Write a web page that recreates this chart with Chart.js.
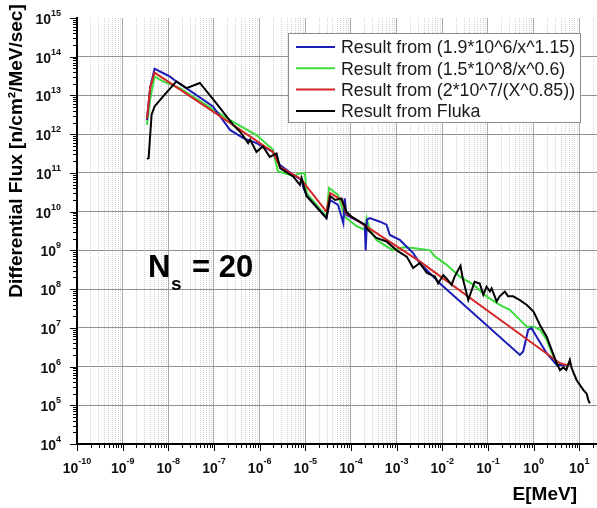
<!DOCTYPE html>
<html>
<head>
<meta charset="utf-8">
<script src="https://cdn.jsdelivr.net/npm/chart.js@4.4.1/dist/chart.umd.min.js"></script>
<style>
  html, body { margin: 0; padding: 0; background: #fff; }
  #wrap { width: 597px; height: 508px; }
</style>
</head>
<body>
<div id="wrap"><canvas id="myChart"></canvas></div>
<script>
// values: E in MeV, flux in n/cm2/MeV/sec
const blueE = [3.4e-9, 4.0e-9, 5.0e-9, 7.6e-9, 1.07e-8, 1.5e-8, 9.5e-8, 2.24e-7, 4.4e-7, 8.5e-7, 1.95e-6, 2.75e-6, 5.4e-6, 8.3e-6, 9.1e-6, 1.07e-5, 2.9e-5, 3.5e-5, 5.2e-5, 6.8e-5, 7.3e-5, 7.9e-5, 2.0e-4, 2.1e-4, 2.24e-4, 2.6e-4, 4.3e-4, 6.0e-4, 7.1e-4, 1.17e-3, 2.3e-3, 3.2e-3, 8.9e-3, 0.5, 0.59, 0.76, 0.9, 1.16, 1.93, 3.19, 5.2];
const blueFlux = [2.3e12, 1.6e13, 4.9e13, 3.8e13, 3.1e13, 2.3e13, 5.2e12, 1.29e12, 7.9e11, 5.9e11, 3.5e11, 1.62e11, 8.9e10, 6.6e10, 4.1e10, 2.6e10, 6.8e9, 2.0e10, 1.5e10, 5.0e9, 2.2e10, 8.3e9, 4.6e9, 1.0e9, 6.2e9, 6.8e9, 5.5e9, 4.6e9, 2.5e9, 1.86e9, 8.5e8, 4.7e8, 1.4e8, 2.0e6, 2.45e6, 8.9e6, 9.8e6, 5.9e6, 2.2e6, 1.1e6, 1.1e6];

const greenE = [3.4e-9, 4.0e-9, 5.0e-9, 7.6e-9, 1.78e-8, 2.24e-7, 8.5e-7, 1.95e-6, 2.5e-6, 5.4e-6, 7.6e-6, 9.8e-6, 1.07e-5, 2.9e-5, 3.3e-5, 5.2e-5, 7.3e-5, 1.32e-4, 2.0e-4, 2.2e-4, 2.6e-4, 3.6e-4, 8.3e-4, 1.41e-3, 2.3e-3, 5.4e-3, 6.9e-3, 1.23e-2, 2.4e-2, 4.8e-2, 9.3e-2, 0.18, 0.3, 0.5, 0.71, 1.0, 1.38, 1.93, 2.7, 3.19, 3.77];
const greenFlux = [1.74e12, 7.9e12, 3.1e13, 2.3e13, 1.55e13, 2.3e12, 9.5e11, 4.0e11, 1.1e11, 8.3e10, 9.8e10, 9.8e10, 3.0e10, 7.4e9, 4.1e10, 2.7e10, 7.4e9, 4.2e9, 3.4e9, 6.8e9, 3.4e9, 1.86e9, 1.0e9, 1.2e9, 1.15e9, 1.0e9, 6.9e8, 4.3e8, 2.1e8, 1.3e8, 6.5e7, 3.9e7, 2.9e7, 1.6e7, 1.07e7, 1.07e7, 8.9e6, 4.9e6, 1.8e6, 1.22e6, 1.1e6];

const redE = [3.4e-9, 4.0e-9, 5.0e-9, 1.0e-7, 1.95e-6, 2.8e-6, 7.9e-6, 2.9e-5, 3.5e-5, 6.2e-5, 7.9e-5, 3.2e-3, 3.77, 5.2, 6.3];
const redFlux = [2.5e12, 1.6e13, 3.9e13, 3.7e12, 3.5e11, 1.41e11, 7.1e10, 1.0e10, 3.0e10, 2.0e10, 9.1e9, 5.2e8, 1.22e6, 1.1e6, 1.15e6];

const flukaE = [3.4e-9, 3.7e-9, 4.3e-9, 5.0e-9, 7.6e-9, 1.5e-8, 2.5e-8, 4.9e-8, 1.12e-7, 2.63e-7, 3.7e-7, 5.6e-7, 6.2e-7, 8.5e-7, 1.18e-6, 1.66e-6, 2.34e-6, 2.8e-6, 5.4e-6, 7.6e-6, 8.3e-6, 9.8e-6, 1.07e-5, 2.9e-5, 3.5e-5, 4.5e-5, 6.2e-5, 7.9e-5, 1.02e-4, 2.0e-4, 2.34e-4, 3.6e-4, 6.0e-4, 1.0e-3, 1.66e-3, 2.3e-3, 3.2e-3, 4.6e-3, 5.4e-3, 6.9e-3, 8.1e-3, 1.05e-2, 1.23e-2, 1.6e-2, 1.86e-2, 2.5e-2, 2.8e-2, 3.7e-2, 5.1e-2, 6.6e-2, 7.9e-2, 9.3e-2, 0.11, 0.12, 0.155, 0.18, 0.234, 0.275, 0.355, 0.5, 0.71, 1.0, 1.38, 1.93, 2.48, 3.19, 3.77, 4.5, 5.2, 6.2, 6.8, 8.7, 12.2, 14.5, 15.7, 17];
const flukaFlux = [2.3e11, 2.4e11, 3.2e12, 5.2e12, 9.3e12, 2.3e13, 1.55e13, 2.1e13, 6.3e12, 1.74e12, 1.17e12, 5.9e11, 7.2e11, 3.5e11, 4.8e11, 2.6e11, 3.2e11, 1.32e11, 8.1e10, 4.9e10, 7.4e10, 3.6e10, 2.5e10, 6.8e9, 2.5e10, 2.0e10, 2.2e10, 1.0e10, 7.4e9, 4.6e9, 3.4e9, 2.1e9, 1.7e9, 1.0e9, 6.9e8, 3.5e8, 4.7e8, 2.6e8, 2.4e8, 2.1e8, 1.4e8, 2.3e8, 1.9e8, 1.3e8, 2.1e8, 4.0e8, 1.9e8, 5.2e7, 1.55e8, 1.4e8, 7.1e7, 1.15e8, 8.7e7, 1.05e8, 4.8e7, 6.5e7, 8.7e7, 6.5e7, 6.5e7, 5.2e7, 3.9e7, 2.6e7, 1.17e7, 5.9e6, 2.7e6, 1.22e6, 8.1e5, 9.5e5, 8.1e5, 1.48e6, 9.1e5, 4.5e5, 2.5e5, 2.0e5, 1.38e5, 1.12e5];

const seriesLabels = [
  "Result from (1.9*10^6/x^1.15)",
  "Result from (1.5*10^8/x^0.6)",
  "Result from (2*10^7/(X^0.85))",
  "Result from Fluka"
];

// tick labels are 10^n, these are the n
const xTickPowers = [-10, -9, -8, -7, -6, -5, -4, -3, -2, -1, 0, 1];
const yTickPowers = [4, 5, 6, 7, 8, 9, 10, 11, 12, 13, 14, 15];

const FONT = "'Liberation Sans', Arial, sans-serif";

function toPoints(es, fs) {
  return es.map((e, i) => ({ x: e, y: fs[i] }));
}

// 1..9 x 10^n for every decade, powers of ten flagged major
function decadeTicks(powers, max) {
  const out = [];
  powers.forEach(p => {
    for (let m = 1; m <= 9; m++) {
      const v = m * Math.pow(10, p);
      if (v <= max * 1.0001) out.push({ value: v, major: m === 1 });
    }
  });
  return out;
}

const X_MIN = 1e-10, X_MAX = 24.4;
const Y_MIN = 1e4, Y_MAX = 1e15;

const decorations = {
  id: 'decorations',
  afterDraw(chart) {
    const { ctx, chartArea: a, scales: { x, y } } = chart;
    ctx.save();

    // tick marks (outside)
    ctx.strokeStyle = '#000';
    ctx.lineWidth = 1;
    x.ticks.forEach(t => {
      const px = Math.round(x.getPixelForValue(t.value)) + 0.5;
      ctx.beginPath();
      ctx.moveTo(px, a.bottom);
      ctx.lineTo(px, a.bottom + (t.major ? 7 : 4));
      ctx.stroke();
    });
    y.ticks.forEach(t => {
      const py = Math.round(y.getPixelForValue(t.value)) + 0.5;
      ctx.beginPath();
      ctx.moveTo(a.left, py);
      ctx.lineTo(a.left - (t.major ? 7 : 4), py);
      ctx.stroke();
    });

    // tick labels 10^n
    ctx.fillStyle = '#111';
    ctx.textBaseline = 'alphabetic';
    const big = 'bold 14px ' + FONT, small = 'bold 9px ' + FONT;
    xTickPowers.forEach(p => {
      const px = x.getPixelForValue(Math.pow(10, p));
      ctx.font = big;
      const w1 = ctx.measureText('10').width;
      ctx.font = small;
      const w2 = ctx.measureText(String(p)).width;
      const left = px - (w1 + w2) / 2;
      ctx.font = big;
      ctx.textAlign = 'left';
      ctx.fillText('10', left, a.bottom + 29);
      ctx.font = small;
      ctx.fillText(String(p), left + w1, a.bottom + 20);
    });
    yTickPowers.forEach(p => {
      const py = y.getPixelForValue(Math.pow(10, p));
      ctx.font = small;
      const w2 = ctx.measureText(String(p)).width;
      ctx.textAlign = 'right';
      ctx.fillText(String(p), 61, py - 2);
      ctx.font = big;
      ctx.fillText('10', 61 - w2, py + 6);
    });

    // axis titles
    ctx.fillStyle = '#000';
    ctx.font = 'bold 19px ' + FONT;
    ctx.textAlign = 'right';
    ctx.fillText('E[MeV]', 577, 500);
    ctx.save();
    ctx.translate(22, 151);
    ctx.rotate(-Math.PI / 2);
    ctx.textAlign = 'center';
    ctx.fillText('Differential Flux [n/cm\u00B2/MeV/sec]', 0, 0);
    ctx.restore();

    // N_s = 20
    ctx.textAlign = 'left';
    ctx.font = 'bold 31px ' + FONT;
    ctx.fillText('N', 148, 277);
    ctx.fillText('= 20', 192, 277);
    ctx.font = 'bold 19px ' + FONT;
    ctx.fillText('s', 171, 290);

    // legend box
    const bx = 288, by = 33, bw = 292, bh = 89;
    ctx.fillStyle = '#fff';
    ctx.fillRect(bx, by, bw, bh);
    ctx.strokeStyle = '#8c8c8c';
    ctx.lineWidth = 1;
    ctx.strokeRect(bx + 0.5, by + 0.5, bw, bh);
    ctx.font = '17.8px ' + FONT;
    chart.data.datasets.forEach((ds, i) => {
      const cy = 47 + i * 21.3;
      ctx.strokeStyle = ds.borderColor;
      ctx.lineWidth = 2;
      ctx.beginPath();
      ctx.moveTo(296, cy);
      ctx.lineTo(335, cy);
      ctx.stroke();
      ctx.fillStyle = '#1a1a1a';
      ctx.fillText(ds.label, 341, cy + 6.3);
    });

    ctx.restore();
  }
};

new Chart(document.getElementById('myChart'), {
  type: 'line',
  data: {
    datasets: [
      { label: seriesLabels[0], data: toPoints(blueE, blueFlux), borderColor: '#1c1cb8', order: 2 },
      { label: seriesLabels[1], data: toPoints(greenE, greenFlux), borderColor: '#3ddc3d', order: 3 },
      { label: seriesLabels[2], data: toPoints(redE, redFlux), borderColor: '#d42626', order: 1 },
      { label: seriesLabels[3], data: toPoints(flukaE, flukaFlux), borderColor: '#000000', order: 0 }
    ]
  },
  options: {
    responsive: true,
    maintainAspectRatio: false,
    animation: false,
    devicePixelRatio: 1,
    layout: { padding: { left: 77, top: 18, right: 0, bottom: 64 } },
    elements: {
      line: { borderWidth: 2, tension: 0, fill: false },
      point: { radius: 0 }
    },
    plugins: {
      legend: { display: false },
      tooltip: { enabled: false }
    },
    scales: {
      x: {
        type: 'logarithmic',
        min: X_MIN,
        max: X_MAX,
        afterBuildTicks: s => { s.ticks = decadeTicks(xTickPowers, X_MAX); },
        ticks: { display: false, autoSkip: false },
        grid: {
          drawTicks: false,
          color: c => (c.tick && c.tick.major) ? '#aaaaaa' : '#d2d2d2',
          lineWidth: 1
        },
        border: {
          display: true,
          color: '#000',
          width: 2,
          dash: c => (c.tick && c.tick.major) ? [] : [1, 1]
        }
      },
      y: {
        type: 'logarithmic',
        min: Y_MIN,
        max: Y_MAX,
        afterBuildTicks: s => { s.ticks = decadeTicks(yTickPowers, Y_MAX); },
        ticks: { display: false, autoSkip: false },
        grid: {
          drawTicks: false,
          color: c => (c.tick && c.tick.major && c.tick.value < Y_MAX) ? '#929292' : 'rgba(0,0,0,0)',
          lineWidth: 1
        },
        border: { display: true, color: '#000', width: 2 }
      }
    }
  },
  plugins: [decorations]
});
</script>
</body>
</html>
